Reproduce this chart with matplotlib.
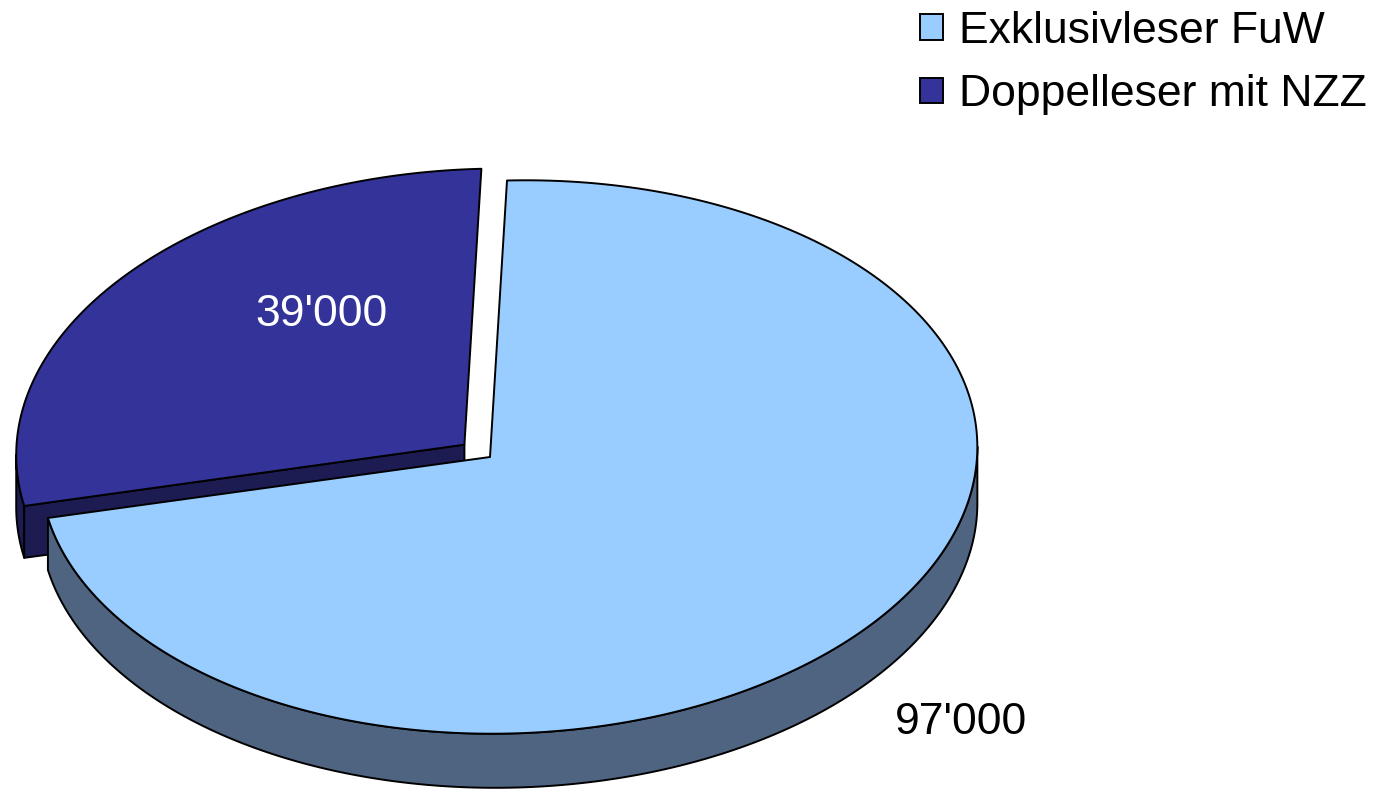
import numpy as np
import matplotlib
matplotlib.use('Agg')
import matplotlib.pyplot as plt
from matplotlib.patches import Polygon, Patch

plt.rcParams['font.family'] = ['Liberation Sans', 'DejaVu Sans']

# Daten
kategorien = ['Exklusivleser FuW', 'Doppelleser mit NZZ']
leser = [97000, 39000]

# Stil
farben_oben = ['#99CCFF', '#333399']
farben_seite = ['#4F6481', '#1C1C52']
label_farben = ['black', 'white']
explode = [0.0, 0.072]
label_pos = [(1.36, -42.6), (0.58, 124.5)]   # (Radius, Winkel) in der Kuchenebene

# 3D-Ansicht (Pixel), leichte Perspektive wie in Excel
CX, CY = 490.0, 457.0
RX, RY = 467.7, 276.5
SCHER = 17.0
PERSP = -0.0397
TIEFE = 54.0
LW = 1.4


def projiziere(X, Y, tiefe=0.0):
    w = 1 + PERSP * X
    return CX + (RX * X + SCHER * Y) / w, CY + (-RY * Y + tiefe) / w


def bogen(t0, t1, ox, oy, tiefe=0.0, n=240):
    t = np.radians(np.linspace(t0, t1, n))
    x, y = projiziere(ox + np.cos(t), oy + np.sin(t), tiefe)
    return np.column_stack([x, y])


def flaeche(ax, pts, farbe):
    ax.add_patch(Polygon(pts, closed=True, facecolor=farbe, edgecolor='black',
                         lw=LW, joinstyle='round'))


fig = plt.figure(figsize=(13.89, 7.9), dpi=100)
ax = fig.add_axes([0, 0, 1, 1])
ax.set_xlim(0, 1389)
ax.set_ylim(790, 0)
ax.axis('off')

# Segmente: Start bei 12 Uhr, im Uhrzeigersinn
anteile = np.array(leser) / sum(leser) * 360
segmente = []
start = 90.0
for i, a in enumerate(anteile):
    t1, t0 = start, start - a
    start = t0
    mitte = np.radians((t0 + t1) / 2)
    ox, oy = explode[i] * np.cos(mitte), explode[i] * np.sin(mitte)
    segmente.append((i, t0, t1, ox, oy, np.sin(mitte)))

neig = np.degrees(np.arctan(SCHER / RX))
vorne = (180 + neig, 360 + neig)

# hinten zuerst zeichnen
for i, t0, t1, ox, oy, s in sorted(segmente, key=lambda z: -z[5]):
    # Aussenwand (nur sichtbarer vorderer Teil)
    for k in (-360, 0, 360):
        a, b = max(t0, vorne[0] + k), min(t1, vorne[1] + k)
        if b > a:
            pts = np.vstack([bogen(a, b, ox, oy), bogen(b, a, ox, oy, TIEFE)])
            flaeche(ax, pts, farben_seite[i])
    # Schnittflaechen
    for t, sichtbar in ((t1, np.cos(np.radians(t1)) < -0.01),
                        (t0, np.cos(np.radians(t0)) > 0.01)):
        if sichtbar:
            rx, ry = ox + np.cos(np.radians(t)), oy + np.sin(np.radians(t))
            pts = [projiziere(ox, oy), projiziere(rx, ry),
                   projiziere(rx, ry, TIEFE), projiziere(ox, oy, TIEFE)]
            flaeche(ax, pts, farben_seite[i])
    # Deckel
    pts = np.vstack([[projiziere(ox, oy)], bogen(t0, t1, ox, oy)])
    flaeche(ax, pts, farben_oben[i])

# Beschriftungen
for i, t0, t1, ox, oy, s in segmente:
    r, w = label_pos[i]
    x, y = projiziere(ox + r * np.cos(np.radians(w)), oy + r * np.sin(np.radians(w)))
    ax.text(x, y, f"{leser[i]:,}".replace(",", "'"), ha='center', va='center',
            fontsize=32, color=label_farben[i])

griffe = [Patch(facecolor=farben_oben[i], edgecolor='black', lw=LW, label=kategorien[i])
          for i in range(len(kategorien))]
ax.legend(handles=griffe, loc='upper left', bbox_to_anchor=(920 / 1389, 1 - 11 / 790),
          frameon=False, fontsize=32, handlelength=0.52, handleheight=0.52,
          handletextpad=0.36, labelspacing=0.5, borderpad=0, borderaxespad=0)

fig.savefig('out.png', dpi=100)
